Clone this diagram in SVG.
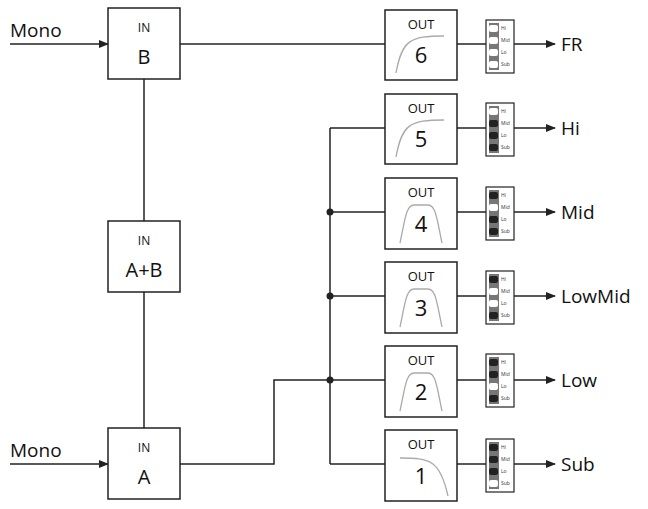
<svg xmlns="http://www.w3.org/2000/svg" width="648" height="509" viewBox="0 0 648 509">
<style>
.box{fill:#fff;stroke:#222;stroke-width:1.5}
.ln{fill:none;stroke:#222;stroke-width:1.5}
.cv{fill:none;stroke:#aaa;stroke-width:1.3}
.t{font-family:"Open Sans","Liberation Sans",sans-serif;fill:#111;text-anchor:middle}
.s{font-family:"Open Sans","Liberation Sans",sans-serif;fill:#333;font-size:5px}
.lab{font-family:"Open Sans","Liberation Sans",sans-serif;fill:#111;font-size:19px}
.sw{fill:#fff;stroke:#222;stroke-width:1.2}
.on{fill:#222}.off{fill:#fff}
</style>
<defs>
<marker id="ar" markerWidth="10" markerHeight="8" refX="9" refY="4" orient="auto" markerUnits="userSpaceOnUse"><path d="M0,0L10,4L0,8z" fill="#222"/></marker>
<g id="swbase"><rect class="sw" x="0" y="0" width="28" height="53"/><rect x="3" y="3" width="10" height="47" fill="#777"/></g>
</defs>
<g id="connectors">
<line class="ln" x1="10" y1="44" x2="108" y2="44" marker-end="url(#ar)"/>
<line class="ln" x1="10" y1="464" x2="108" y2="464" marker-end="url(#ar)"/>
<line class="ln" x1="144" y1="79" x2="144" y2="221"/>
<line class="ln" x1="144" y1="292" x2="144" y2="428"/>
<line class="ln" x1="180" y1="44" x2="385" y2="44"/>
<polyline class="ln" points="180,464 274,464 274,380 330,380"/>
<line class="ln" x1="330" y1="128" x2="330" y2="464"/>
<line class="ln" x1="330" y1="128" x2="385" y2="128"/>
<line class="ln" x1="330" y1="212" x2="385" y2="212"/>
<line class="ln" x1="330" y1="296" x2="385" y2="296"/>
<line class="ln" x1="330" y1="380" x2="385" y2="380"/>
<line class="ln" x1="330" y1="464" x2="385" y2="464"/>
<circle cx="330" cy="212" r="3.5" fill="#222"/>
<circle cx="330" cy="296" r="3.5" fill="#222"/>
<circle cx="330" cy="380" r="3.5" fill="#222"/>
<g class="ln">
<line x1="457" y1="44" x2="486" y2="44"/><line x1="457" y1="128" x2="486" y2="128"/><line x1="457" y1="212" x2="486" y2="212"/><line x1="457" y1="296" x2="486" y2="296"/><line x1="457" y1="380" x2="486" y2="380"/><line x1="457" y1="464" x2="486" y2="464"/>
</g>
<g class="ln" marker-end="url(#ar)">
<line x1="514" y1="44" x2="555" y2="44" marker-end="url(#ar)"/><line x1="514" y1="128" x2="555" y2="128" marker-end="url(#ar)"/><line x1="514" y1="212" x2="555" y2="212" marker-end="url(#ar)"/><line x1="514" y1="296" x2="555" y2="296" marker-end="url(#ar)"/><line x1="514" y1="380" x2="555" y2="380" marker-end="url(#ar)"/><line x1="514" y1="464" x2="555" y2="464" marker-end="url(#ar)"/>
</g>
</g>
<g id="labels">
<text class="lab" x="10" y="37">Mono</text>
<text class="lab" x="10" y="457">Mono</text>
<text class="lab" x="561" y="51">FR</text>
<text class="lab" x="561" y="135">Hi</text>
<text class="lab" x="561" y="219">Mid</text>
<text class="lab" x="561" y="303">LowMid</text>
<text class="lab" x="561" y="387">Low</text>
<text class="lab" x="561" y="471">Sub</text>
</g>
<g id="inB"><rect class="box" x="108" y="8" width="72" height="71"/><text class="t" x="144" y="32" font-size="12">IN</text><text class="t" x="144" y="64" font-size="20">B</text></g>
<g id="inAB"><rect class="box" x="108" y="221" width="72" height="71"/><text class="t" x="144" y="245" font-size="12">IN</text><text class="t" x="144" y="277" font-size="20">A+B</text></g>
<g id="inA"><rect class="box" x="108" y="428" width="72" height="71"/><text class="t" x="144" y="452" font-size="12">IN</text><text class="t" x="144" y="484" font-size="20">A</text></g>
<g id="out6"><rect class="box" x="385" y="10" width="72" height="70"/><text class="t" x="421" y="29" font-size="13">OUT</text><text class="t" x="421" y="63" font-size="22">6</text><path class="cv" d="M396,73 C402,40 410,36 444,36"/></g>
<g id="out5"><rect class="box" x="385" y="94" width="72" height="70"/><text class="t" x="421" y="113" font-size="13">OUT</text><text class="t" x="421" y="147" font-size="22">5</text><path class="cv" d="M396,157 C402,124 410,120 444,120"/></g>
<g id="out4"><rect class="box" x="385" y="178" width="72" height="71"/><text class="t" x="421" y="197" font-size="13">OUT</text><text class="t" x="421" y="232" font-size="22">4</text><path class="cv" d="M400,243 C405,220 406,205 414,205 L428,205 C436,205 437,220 442,243"/></g>
<g id="out3"><rect class="box" x="385" y="262" width="72" height="71"/><text class="t" x="421" y="281" font-size="13">OUT</text><text class="t" x="421" y="316" font-size="22">3</text><path class="cv" d="M400,327 C405,304 406,289 414,289 L428,289 C436,289 437,304 442,327"/></g>
<g id="out2"><rect class="box" x="385" y="346" width="72" height="71"/><text class="t" x="421" y="365" font-size="13">OUT</text><text class="t" x="421" y="400" font-size="22">2</text><path class="cv" d="M400,411 C405,388 406,373 414,373 L428,373 C436,373 437,388 442,411"/></g>
<g id="out1"><rect class="box" x="385" y="430" width="72" height="71"/><text class="t" x="421" y="449" font-size="13">OUT</text><text class="t" x="421" y="484" font-size="22">1</text><path class="cv" d="M400,458 C430,458 440,460 448,496"/></g>
<g id="sw6" transform="translate(486,20)"><use href="#swbase"/><rect class="off" x="3" y="5" width="9" height="7" rx="2"/><rect class="off" x="3" y="17" width="9" height="7" rx="2"/><rect class="off" x="3" y="29" width="9" height="7" rx="2"/><rect class="off" x="3" y="41" width="9" height="7" rx="2"/><text class="s" x="15" y="10">Hi</text><text class="s" x="15" y="22">Mid</text><text class="s" x="15" y="34">Lo</text><text class="s" x="15" y="46">Sub</text></g>
<g id="sw5" transform="translate(486,103)"><use href="#swbase"/><rect class="off" x="3" y="5" width="9" height="7" rx="2"/><rect class="on" x="3" y="17" width="9" height="7" rx="2"/><rect class="on" x="3" y="29" width="9" height="7" rx="2"/><rect class="on" x="3" y="41" width="9" height="7" rx="2"/><text class="s" x="15" y="10">Hi</text><text class="s" x="15" y="22">Mid</text><text class="s" x="15" y="34">Lo</text><text class="s" x="15" y="46">Sub</text></g>
<g id="sw4" transform="translate(486,187)"><use href="#swbase"/><rect class="on" x="3" y="5" width="9" height="7" rx="2"/><rect class="off" x="3" y="17" width="9" height="7" rx="2"/><rect class="on" x="3" y="29" width="9" height="7" rx="2"/><rect class="on" x="3" y="41" width="9" height="7" rx="2"/><text class="s" x="15" y="10">Hi</text><text class="s" x="15" y="22">Mid</text><text class="s" x="15" y="34">Lo</text><text class="s" x="15" y="46">Sub</text></g>
<g id="sw3" transform="translate(486,271)"><use href="#swbase"/><rect class="on" x="3" y="5" width="9" height="7" rx="2"/><rect class="off" x="3" y="17" width="9" height="7" rx="2"/><rect class="off" x="3" y="29" width="9" height="7" rx="2"/><rect class="on" x="3" y="41" width="9" height="7" rx="2"/><text class="s" x="15" y="10">Hi</text><text class="s" x="15" y="22">Mid</text><text class="s" x="15" y="34">Lo</text><text class="s" x="15" y="46">Sub</text></g>
<g id="sw2" transform="translate(486,354)"><use href="#swbase"/><rect class="on" x="3" y="5" width="9" height="7" rx="2"/><rect class="on" x="3" y="17" width="9" height="7" rx="2"/><rect class="off" x="3" y="29" width="9" height="7" rx="2"/><rect class="on" x="3" y="41" width="9" height="7" rx="2"/><text class="s" x="15" y="10">Hi</text><text class="s" x="15" y="22">Mid</text><text class="s" x="15" y="34">Lo</text><text class="s" x="15" y="46">Sub</text></g>
<g id="sw1" transform="translate(486,439)"><use href="#swbase"/><rect class="on" x="3" y="5" width="9" height="7" rx="2"/><rect class="on" x="3" y="17" width="9" height="7" rx="2"/><rect class="on" x="3" y="29" width="9" height="7" rx="2"/><rect class="off" x="3" y="41" width="9" height="7" rx="2"/><text class="s" x="15" y="10">Hi</text><text class="s" x="15" y="22">Mid</text><text class="s" x="15" y="34">Lo</text><text class="s" x="15" y="46">Sub</text></g>
</svg>
